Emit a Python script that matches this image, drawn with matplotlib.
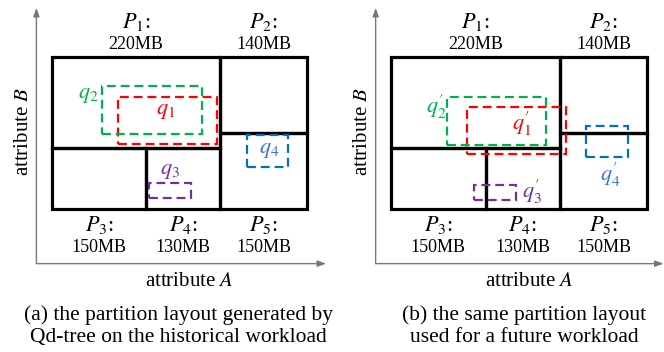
import matplotlib
matplotlib.use("Agg")
import matplotlib.pyplot as plt
from matplotlib.patches import Rectangle

plt.rcParams["font.family"] = ["Liberation Serif", "DejaVu Serif"]
plt.rcParams["mathtext.fontset"] = "stix"

# partition layout in attribute space (A from 0 to 100, B from 0 to 100)
part_names = ["P_1", "P_2", "P_3", "P_4", "P_5"]
part_sizes = ["220MB", "140MB", "150MB", "130MB", "150MB"]
part_a_lo = [0, 66, 0, 37, 66]
part_a_hi = [66, 100, 37, 66, 100]
part_b_lo = [40, 50, 0, 0, 0]
part_b_hi = [100, 100, 40, 40, 50]

query_colors = ["#ff0000", "#00b050", "#7030a0", "#0070c0"]
label_colors = ["#ff0000", "#00b050", "#7030a0", "#4472c4"]

# (a) historical workload
hist_names = ["q_1", "q_2", "q_3", "q_4"]
hist_a_lo = [25.9, 19.8, 38.2, 76.4]
hist_a_hi = [64.9, 58.9, 54.6, 92.7]
hist_b_lo = [42.6, 49.3, 7.2, 27.9]
hist_b_hi = [73.8, 80.8, 17.0, 48.5]
hist_lab_a = [44.8, 14.2, 46.3, 85.1]
hist_lab_b = [64.3, 74.9, 24.6, 38.4]

# (b) future workload
fut_names = [r"q_1^{\prime}", r"q_2^{\prime}", r"q_3^{\prime}", r"q_4^{\prime}"]
fut_a_lo = [29.7, 21.9, 32.3, 76.1]
fut_a_hi = [68.5, 60.7, 49.0, 92.6]
fut_b_lo = [36.0, 42.1, 6.1, 34.5]
fut_b_hi = [66.8, 73.4, 15.7, 54.6]
fut_lab_a = [51.2, 17.5, 55.1, 85.5]
fut_lab_b = [55.9, 67.0, 11.3, 22.5]

captions = ["(a) the partition layout generated by\nQd-tree on the historical workload",
            "(b) the same partition layout\nused for a future workload"]

W, H = 664, 352
fig = plt.figure(figsize=(W / 100, H / 100), dpi=100)


def draw_panel(ax, names, a_lo, a_hi, b_lo, b_hi, lab_a, lab_b, x_end):
    ax.set_xlim(0, 100)
    ax.set_ylim(0, 100)
    ax.axis("off")

    # axes arrows
    ax.annotate("", xy=(-6, 132), xytext=(-6, -35.6), annotation_clip=False,
                arrowprops=dict(arrowstyle="-|>,head_length=0.5,head_width=0.18",
                                color="#777777", lw=1.0, shrinkA=0, shrinkB=0))
    ax.annotate("", xy=(x_end, -35.6), xytext=(-6, -35.6), annotation_clip=False,
                arrowprops=dict(arrowstyle="-|>,head_length=0.5,head_width=0.18",
                                color="#777777", lw=1.0, shrinkA=0, shrinkB=0))
    ax.text(54, -47, "attribute $A$", ha="center", va="center", fontsize=15)
    ax.text(-11, 51, "attribute $B$", ha="center", va="center",
            rotation=90, fontsize=15)

    # partitions
    for i in range(len(part_names)):
        ax.add_patch(Rectangle((part_a_lo[i], part_b_lo[i]),
                               part_a_hi[i] - part_a_lo[i], part_b_hi[i] - part_b_lo[i],
                               fill=False, ec="black", lw=2.3, clip_on=False,
                               joinstyle="miter", zorder=3))
        xc = (part_a_lo[i] + part_a_hi[i]) / 2
        if part_b_hi[i] == 100:
            y1, y2 = 123, 107.7
        else:
            y1, y2 = -10.5, -24.8
        ax.text(xc, y1, f"${part_names[i]}$:", ha="center", va="center", fontsize=16)
        ax.text(xc, y2, part_sizes[i], ha="center", va="center", fontsize=13)

    # queries
    for i in range(len(names)):
        ax.add_patch(Rectangle((a_lo[i], b_lo[i]), a_hi[i] - a_lo[i], b_hi[i] - b_lo[i],
                               fill=False, ec=query_colors[i], lw=1.6,
                               ls=(0, (4, 2.2)), clip_on=False, zorder=4))
        ax.text(lab_a[i], lab_b[i], f"${names[i]}$", color=label_colors[i],
                ha="center", va="center", fontsize=16)


ax1 = fig.add_axes([51.7 / W, 1 - 209.3 / H, 255.3 / W, 152.6 / H])
draw_panel(ax1, hist_names, hist_a_lo, hist_a_hi, hist_b_lo, hist_b_hi,
           hist_lab_a, hist_lab_b, 107.5)

ax2 = fig.add_axes([391 / W, 1 - 209.3 / H, 256 / W, 152.6 / H])
draw_panel(ax2, fut_names, fut_a_lo, fut_a_hi, fut_b_lo, fut_b_hi,
           fut_lab_a, fut_lab_b, 106.5)

fig.text(178 / W, 1 - 326 / H, captions[0], ha="center", va="center",
         fontsize=15.5, linespacing=1.2)
fig.text(524 / W, 1 - 326 / H, captions[1], ha="center", va="center",
         fontsize=15.5, linespacing=1.2)

fig.savefig("out.png", dpi=100)
